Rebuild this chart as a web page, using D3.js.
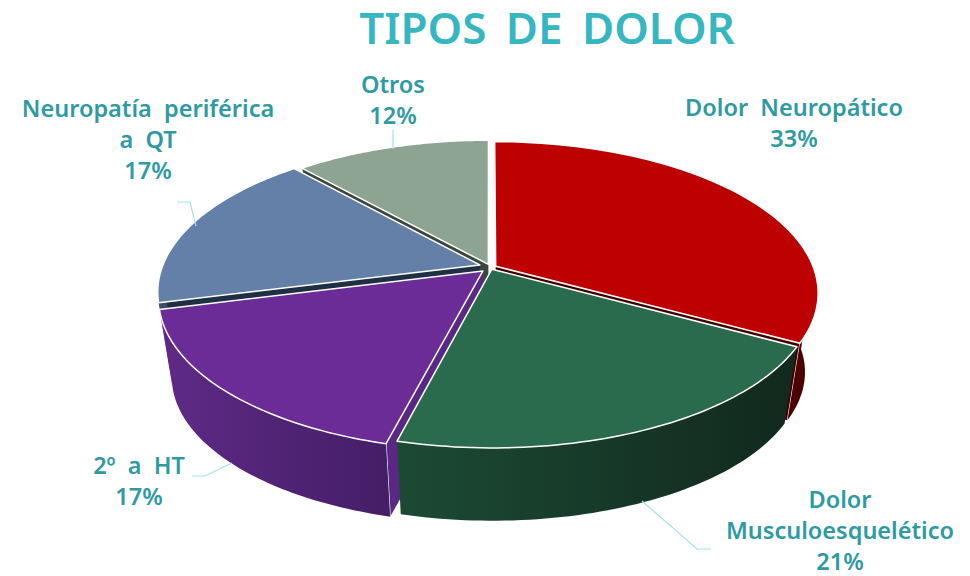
<!DOCTYPE html>
<html>
<head>
<meta charset="utf-8">
<script src="https://cdn.jsdelivr.net/npm/d3@7"></script>
<style>
  html, body { margin: 0; padding: 0; background: #fff; }
  text { font-family: "Noto Sans", sans-serif; font-weight: 600; }
</style>
</head>
<body>
<div class="chart"></div>
<script>
// data ============================================================ //
const categories = ["Dolor Neuropático", "Dolor Musculoesquelético", "2º a HT", "Neuropatía periférica a QT", "Otros"];
const values = [33, 21, 17, 17.4, 11.6]; // slice sizes as drawn, labels round them
const labelLines = [
  ["Dolor  Neuropático", "33%"],
  ["Dolor", "Musculoesquelético", "21%"],
  ["2º  a  HT", "17%"],
  ["Neuropatía  periférica", "a  QT", "17%"],
  ["Otros", "12%"]
];

// layout and style ================================================ //
const topColors = ["#bd0000", "#2a6b4d", "#6b2c98", "#6580a8", "#8ea492"];
const cutColors = ["#3d0000", "#12291d", "#5a2884", "#1f2f45", "#3c463e"];
const wallStops = [
  ["#4f0000", "#3a0000"],
  ["#1c4a35", "#11291d"],
  ["#5f2a87", "#441e66"],
  ["#3b4f6b", "#3b4f6b"],
  ["#55635a", "#55635a"]
];
// which cut side of each slice faces the viewer
const cutSide = ["end", null, "start", "start", "start"];
// how far each slice is pulled out, in pie radii
const offsetU = [0.021, 0.009, -0.019, -0.029, -0.002];
const offsetV = [-0.012, 0.008, 0.02, -0.021, -0.025];

const labelX = [794, 840, 139, 148, 393];
const labelY = [116, 508, 474, 117, 93];
const lineGap = [31, 31, 31, 31, 31];
const leaders = [
  [],
  [[642, 501], [697, 549], [711, 549]],
  [[232, 463], [205, 476], [192, 476]],
  [[196, 226], [190, 202], [177, 202]],
  [[393, 130], [393, 149]]
];

const width = 970, height = 576;
const cx = 489, cy = 268;      // where the pie centre lands
const R = 318, H = 147;        // projected radii
const tilt = 0.175;            // perspective strength
const depth = 80, shrink = 0.96; // wall height and how much the base narrows

// Project a point of the unit pie onto the page. v is positive to the viewer.
function project(u, v) {
  var s = 1 / (1 - tilt * v);
  return [cx + R * u * s, cy + H * v * s];
}
function dropped(p) {
  return [cx + (p[0] - cx) * shrink, cy + (p[1] - cy) * shrink + depth];
}

var svg = d3.select(".chart").append("svg")
  .attr("width", width)
  .attr("height", height)
  .style("display", "block");

var defs = svg.append("defs");
var line = d3.line();

svg.append("text")
  .attr("x", 547)
  .attr("y", 44)
  .attr("text-anchor", "middle")
  .attr("font-size", 44)
  .attr("fill", "#35b6c1")
  .style("word-spacing", "8px")
  .text("TIPOS DE DOLOR");

var arcs = d3.pie().sort(null).value(function (d) { return d; })(values);

var slices = arcs.map(function (a, i) {
  var steps = d3.range(0, 61).map(function (k) {
    return a.startAngle + (a.endAngle - a.startAngle) * k / 60;
  });
  var rim = steps.map(function (t) {
    return project(Math.sin(t) + offsetU[i], -Math.cos(t) + offsetV[i]);
  });
  return { index: i, apex: project(offsetU[i], offsetV[i]), rim: rim };
});

// back slices first, then the ones closer to the viewer
var drawOrder = [4, 3, 0, 2, 1];
var pieGroup = svg.append("g").attr("id", "pie");

drawOrder.forEach(function (i) {
  var s = slices[i];
  var g = pieGroup.append("g").attr("class", "slice-" + i);
  var baseApex = dropped(s.apex);

  // cut wall, stroked only along its outer edge
  if (cutSide[i]) {
    var top = cutSide[i] == "start" ? s.rim[0] : s.rim[s.rim.length - 1];
    var base = dropped(top);
    g.append("path")
      .attr("d", line([s.apex, top, base, baseApex]) + "Z")
      .attr("fill", cutColors[i]);
    g.append("path")
      .attr("d", line([top, base]))
      .attr("fill", "none")
      .attr("stroke", "#fff")
      .attr("stroke-width", 1.2);
  }

  // outer wall, only the part of the rim on the viewer's side
  var frontRim = s.rim.filter(function (p) { return p[1] > cy; });
  if (frontRim.length > 1) {
    var gradId = "wall-" + i;
    var grad = defs.append("linearGradient")
      .attr("id", gradId)
      .attr("gradientUnits", "userSpaceOnUse")
      .attr("x1", d3.min(frontRim, function (p) { return p[0]; }))
      .attr("x2", d3.max(frontRim, function (p) { return p[0]; }))
      .attr("y1", 0)
      .attr("y2", 0);
    grad.append("stop").attr("offset", "0%").attr("stop-color", wallStops[i][0]);
    grad.append("stop").attr("offset", "100%").attr("stop-color", wallStops[i][1]);

    g.append("path")
      .attr("d", line(frontRim.concat(frontRim.map(dropped).reverse())) + "Z")
      .attr("fill", "url(#" + gradId + ")");
  }

  // top face
  g.append("path")
    .attr("d", line([s.apex].concat(s.rim)) + "Z")
    .attr("fill", topColors[i])
    .attr("stroke", "#fff")
    .attr("stroke-width", 1.5)
    .attr("stroke-linejoin", "round");
});

// leader lines
svg.append("g").attr("id", "leaders")
  .selectAll("path")
  .data(leaders.filter(function (d) { return d.length > 0; }))
  .enter()
  .append("path")
  .attr("d", function (d) { return line(d); })
  .attr("fill", "none")
  .attr("stroke", "#a3e2e8")
  .attr("stroke-width", 1.2);

// data labels
var labels = svg.append("g").attr("id", "labels")
  .selectAll("text")
  .data(labelLines)
  .enter()
  .append("text")
  .attr("text-anchor", "middle")
  .attr("font-size", 23.5)
  .attr("fill", "#2e9aa2")
  .style("white-space", "pre");

labels.each(function (d, i) {
  d3.select(this).selectAll("tspan")
    .data(d)
    .enter()
    .append("tspan")
    .attr("x", labelX[i])
    .attr("y", function (t, k) { return labelY[i] + k * lineGap[i]; })
    .text(function (t) { return t; });
});
</script>
</body>
</html>
